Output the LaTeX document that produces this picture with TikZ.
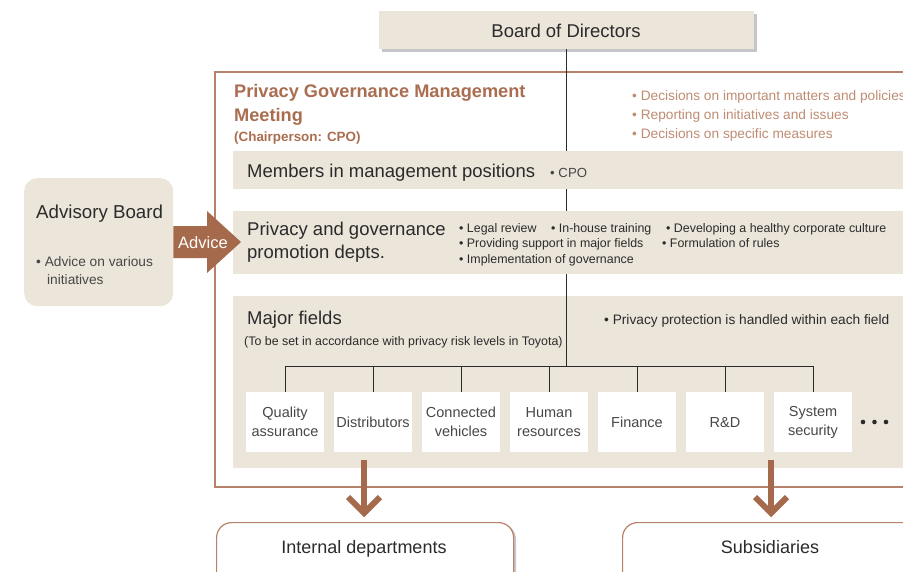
\documentclass[tikz,border=0pt]{standalone}
\usepackage{fontspec}
\setmainfont{Liberation Sans}
\usetikzlibrary{calc}
\definecolor{beige}{HTML}{EBE5DA}
\definecolor{brownline}{HTML}{B7826A}
\definecolor{browntext}{HTML}{A96D50}
\definecolor{brownlight}{HTML}{BE8C72}
\definecolor{brownfill}{HTML}{A5694B}
\definecolor{darktext}{HTML}{2B2B2B}
\definecolor{graytext}{HTML}{474747}
\definecolor{shadowgray}{HTML}{C6C6CA}
\begin{document}
\begin{tikzpicture}[x=1pt,y=-1pt,
  beigebox/.style={fill=beige,draw=none,inner sep=0pt,anchor=north west},
  whitebox/.style={fill=white,draw=none,inner sep=0pt,minimum width=78pt,minimum height=60pt,anchor=north,align=center,font=\fontsize{14.5}{19}\selectfont,text=graytext},
  bigtext/.style={font=\fontsize{18.5}{24}\selectfont,text=darktext,inner sep=0pt,anchor=base west},
  bullettext/.style={font=\fontsize{13.7}{19}\selectfont,text=graytext,inner sep=0pt,anchor=base west},
  smallbullet/.style={font=\fontsize{12.4}{15.5}\selectfont,text=darktext,inner sep=0pt,anchor=base west},
  titletext/.style={font=\bfseries\fontsize{18.2}{24}\selectfont,text=browntext,inner sep=0pt,anchor=base west},
  toptext/.style={font=\fontsize{13.7}{19}\selectfont,text=brownlight,inner sep=0pt,anchor=base west},
  treeline/.style={draw=darktext,line width=0.9pt},
  downarrow/.style={draw=brownfill,line width=6pt,line join=miter},
  roundbox/.style={draw=brownline,line width=1.2pt,fill=white,rounded corners=15pt,inner sep=0pt,anchor=north west,minimum width=297pt,minimum height=70pt},
]
\useasboundingbox (0,0) rectangle (903,571);
\clip (0,0) rectangle (903,571);

% Board of Directors
\fill[shadowgray] (382,14) rectangle (757,52);
\node[beigebox,minimum width=375pt,minimum height=38pt] (board) at (379,11) {};
\node[font=\fontsize{18.5}{22}\selectfont,text=darktext,inner sep=0pt,anchor=base] (boardt) at (566,37) {Board of Directors};

% outer frame
\draw[brownline,line width=1.2pt] (920,72) -- (215,72) -- (215,487) -- (920,487);

% Major fields box
\node[beigebox,minimum width=690pt,minimum height=172pt] (major) at (233,296) {};

% main vertical line
\coordinate (tj) at (566,366);
\draw[treeline] (board.south -| tj) -- (tj);

% Members and privacy boxes
\node[beigebox,minimum width=690pt,minimum height=38pt] (members) at (233,151) {};
\node[beigebox,minimum width=690pt,minimum height=63pt] (privacy) at (233,211) {};

% title
\node[titletext] (title1) at (234,97) {Privacy Governance Management};
\node[titletext] (title2) at (234,121) {Meeting};
\node[font=\bfseries\fontsize{13.4}{16}\selectfont,text=browntext,inner sep=0pt,anchor=base west] (chair) at (234,141) {(Chairperson: CPO)};

\node[toptext] (tb1) at (632,100) {• Decisions on important matters and policies};
\node[toptext] (tb2) at (632,119) {• Reporting on initiatives and issues};
\node[toptext] (tb3) at (632,138) {• Decisions on specific measures};

% members text
\node[bigtext] (memt) at (247,177) {Members in management positions};
\node[font=\fontsize{13.2}{16}\selectfont,text=graytext,inner sep=0pt,anchor=base west] (cpo) at (550,177) {• CPO};

% privacy text
\node[bigtext] (priv1) at (247,235) {Privacy and governance};
\node[bigtext] (priv2) at (247,258) {promotion depts.};
\node[smallbullet] (pb1) at (459,232) {• Legal review};
\node[smallbullet] (pb2) at (551,232) {• In-house training};
\node[smallbullet] (pb3) at (666,232) {• Developing a healthy corporate culture};
\node[smallbullet] (pb4) at (459,247.5) {• Providing support in major fields};
\node[smallbullet] (pb5) at (662,247.5) {• Formulation of rules};
\node[smallbullet] (pb6) at (459,263) {• Implementation of governance};

% major fields text
\node[bigtext] (majt) at (247,324) {Major fields};
\node[smallbullet] (majs) at (244,345) {(To be set in accordance with privacy risk levels in Toyota)};
\node[bullettext,text=darktext] (majb) at (604,324) {• Privacy protection is handled within each field};

% field boxes
\node[whitebox] (f1) at (285,392) {Quality\\assurance};
\node[whitebox] (f2) at (373,392) {Distributors};
\node[whitebox] (f3) at (461,392) {Connected\\vehicles};
\node[whitebox] (f4) at (549,392) {Human\\resources};
\node[whitebox] (f5) at (637,392) {Finance};
\node[whitebox] (f6) at (725,392) {R\&D};
\node[whitebox] (f7) at (813,392) {System\\security};
\fill[darktext] (863,422) circle (2.3) (874.5,422) circle (2.3) (886,422) circle (2.3);

\draw[treeline] (f1.north) -- (f1.north |- tj) -- (f7.north |- tj) -- (f7.north);
\foreach \f in {f2,f3,f4,f5,f6} \draw[treeline] (\f.north) -- (\f.north |- tj);

% Advisory board
\node[fill=beige,draw=none,rounded corners=13pt,inner sep=0pt,minimum width=149pt,minimum height=128pt,anchor=north west] (adv) at (24,178) {};
\node[bigtext,font=\fontsize{18.7}{24}\selectfont] (advt) at (36,218) {Advisory Board};
\node[bullettext,text=graytext] (advb1) at (36,266) {• Advice on various};
\node[bullettext,text=graytext] (advb2) at (47,284) {initiatives};

% Advice arrow
\fill[brownfill] (adv.east |- 0,226) -- (207,226) -- (207,211) -- (241,242) -- (207,273) -- (207,258) -- (adv.east |- 0,258) -- cycle;
\node[font=\fontsize{16.5}{20}\selectfont,text=white,inner sep=0pt,anchor=base] (advice) at (203,248) {Advice};

% bottom boxes
\fill[shadowgray,rounded corners=15pt] (219,524) rectangle (516,600);
\node[roundbox] (intdep) at (216,522) {};
\node[font=\fontsize{18}{22}\selectfont,text=darktext,inner sep=0pt,anchor=base] (intt) at (364,553) {Internal departments};
\fill[shadowgray,rounded corners=15pt] (625,524) rectangle (922,600);
\node[roundbox] (subs) at (622,522) {};
\node[font=\fontsize{18}{22}\selectfont,text=darktext,inner sep=0pt,anchor=base] (subt) at (770,553) {Subsidiaries};

% down arrows
\coordinate (d1top) at (364,460);
\coordinate (d1tip) at (364,513);
\draw[downarrow] (d1top) -- (d1tip);
\draw[downarrow] ($(d1tip)+(-16,-16)$) -- (d1tip) -- ($(d1tip)+(16,-16)$);
\coordinate (d2top) at (771,460);
\coordinate (d2tip) at (771,513);
\draw[downarrow] (d2top) -- (d2tip);
\draw[downarrow] ($(d2tip)+(-16,-16)$) -- (d2tip) -- ($(d2tip)+(16,-16)$);
\end{tikzpicture}
\end{document}
